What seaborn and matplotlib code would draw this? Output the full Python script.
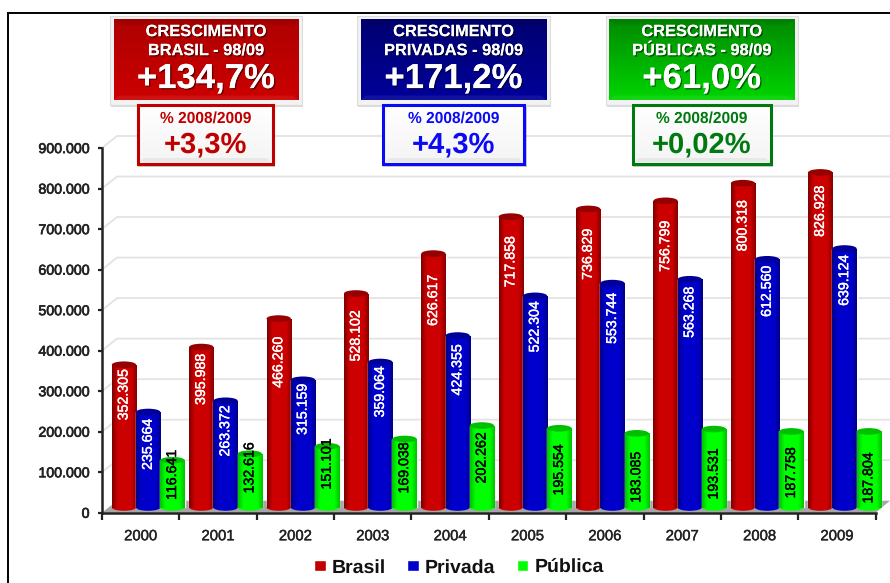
import numpy as np
import pandas as pd
import matplotlib
matplotlib.use('Agg')
import matplotlib.pyplot as plt
import matplotlib.patheffects as pe
from matplotlib.colors import LinearSegmentedColormap
from matplotlib.patches import Ellipse, Polygon, Rectangle
from matplotlib.ticker import FuncFormatter
import seaborn as sns

years = ['2000', '2001', '2002', '2003', '2004', '2005', '2006', '2007', '2008', '2009']
brasil = [352305, 395988, 466260, 528102, 626617, 717858, 736829, 756799, 800318, 826928]
privada = [235664, 263372, 315159, 359064, 424355, 522304, 553744, 563268, 612560, 639124]
publica = [116641, 132616, 151101, 169038, 202262, 195554, 183085, 193531, 187758, 187804]
series_names = ['Brasil', 'Privada', 'Pública']
y_ticks = [0, 100000, 200000, 300000, 400000, 500000, 600000, 700000, 800000, 900000]

# how far (px) each value label sits below the top of its bar
drop_brasil = [30, 32.4, 43.8, 42.4, 46.8, 45.2, 45.4, 45.5, 42.6, 38.9]
drop_privada = [32.4, 30.2, 29.6, 29.9, 34.4, 31, 35.3, 33.1, 32.1, 31.8]
drop_publica = [14.7, 14.2, 17.7, 29, 32.4, 41.7, 44.1, 44.9, 41.5, 46.6]

W, H = 890, 583
AX_L, AX_R, AX_B, AX_T = 102, 875.7, 512.7, 148
DEPTH_X, DEPTH_Y = 15, 12
BAR_DX, BAR_DY = 7.5, 5.2
PX_PER_UNIT = (AX_B - AX_T) / 900000


def rect_of(x0, y0, x1, y1):
    return [x0 / W, 1 - y1 / H, (x1 - x0) / W, (y1 - y0) / H]


def fmt_thousands(v, pos=None):
    return f'{int(v):,}'.replace(',', '.')


def shade(ax, x0, y0, x1, y1, top, bottom, zorder):
    cmap = LinearSegmentedColormap.from_list('b', [top, bottom])
    ax.imshow(np.linspace(0, 1, 64).reshape(-1, 1), cmap=cmap, extent=[x0, x1, y1, y0],
              aspect='auto', zorder=zorder)


def bevel(ax, x0, y0, x1, y1, b, color_top, color_bottom, a, zorder):
    ax.add_patch(Polygon([(x0, y0), (x1, y0), (x1 - b, y0 + b), (x0 + b, y0 + b)],
                         fc=color_top, ec='none', alpha=a, zorder=zorder))
    ax.add_patch(Polygon([(x0, y1), (x1, y1), (x1 - b, y1 - b), (x0 + b, y1 - b)],
                         fc=color_bottom, ec='none', alpha=a, zorder=zorder))


def big_box(ax, x0, x1, top, bottom, title, value):
    ax.add_patch(Rectangle((x0 + 1, 18), x1 - x0, 89, fc='#999999', ec='none', alpha=0.35, zorder=3))
    ax.add_patch(Rectangle((x0, 16), x1 - x0, 89, fc='#F2F2F2', ec='#DDDDDD', lw=0.8, zorder=3.1))
    shade(ax, x0 + 3.5, 19.5, x1 - 3.5, 100.5, top, bottom, 3.2)
    bevel(ax, x0 + 3.5, 19.5, x1 - 3.5, 100.5, 5, 'black', 'white', 0.07, 3.3)
    shadow = [pe.withSimplePatchShadow(offset=(1, -1), shadow_rgbFace='black', alpha=0.5), pe.Normal()]
    cx = (x0 + x1) / 2
    ax.text(cx, 32, title[0], color='white', fontsize=11.8, fontweight='bold', ha='center', va='center',
            path_effects=shadow, zorder=4)
    ax.text(cx, 51, title[1], color='white', fontsize=11.8, fontweight='bold', ha='center', va='center',
            path_effects=shadow, zorder=4)
    ax.text(cx, 79, value, color='white', fontsize=25, fontweight='bold', ha='center', va='center',
            path_effects=shadow, zorder=4)


def small_box(ax, x0, x1, color, value):
    ax.add_patch(Rectangle((x0 + 1, 107), x1 - x0, 60, fc='#777777', ec='none', alpha=0.4, zorder=3))
    shade(ax, x0, 105, x1, 164.5, '#FFFFFF', '#F4F4F4', 3.1)
    bevel(ax, x0 + 3, 108, x1 - 3, 162, 4, '#FFFFFF', '#BBBBBB', 0.2, 3.2)
    ax.add_patch(Rectangle((x0 + 1.3, 105), x1 - x0 - 2.6, 58.5, fc='none', ec=color, lw=2.2, zorder=3.3))
    cx = (x0 + x1) / 2
    ax.text(cx, 119, '% 2008/2009', color=color, fontsize=11.2, fontweight='bold', ha='center', va='center', zorder=4)
    ax.text(cx, 145, value, color=color, fontsize=21, fontweight='bold', ha='center', va='center', zorder=4)


sns.set_theme(style='white')
plt.rcParams['font.family'] = ['Liberation Sans', 'DejaVu Sans']
plt.rcParams['text.hinting'] = 'none'

df = pd.DataFrame({
    'ano': years * 3,
    'tipo': [n for n in series_names for _ in years],
    'valor': brasil + privada + publica,
})

fig = plt.figure(figsize=(W / 100, H / 100), dpi=100, facecolor='white')

# back layer: frame, walls, floor and gridlines
back = fig.add_axes([0, 0, 1, 1], zorder=0)
back.set_xlim(0, W)
back.set_ylim(H, 0)
back.axis('off')
back.plot([7.5, 7.5, W], [H, 12.5, 12.5], color='black', lw=1.4, solid_joinstyle='miter')
back.add_patch(Polygon([(AX_L, AX_B), (AX_R, AX_B), (W, AX_B - DEPTH_Y), (AX_L + DEPTH_X, AX_B - DEPTH_Y)],
                       fc='#A6A6A6', ec='none'))
for t in y_ticks[1:]:
    y = AX_B - t * PX_PER_UNIT
    back.plot([AX_L, AX_L + DEPTH_X, W], [y, y - DEPTH_Y, y - DEPTH_Y], color='#E3E3E3', lw=1.3)

# main axis with the ticks
ax = fig.add_axes(rect_of(AX_L, AX_T, AX_R, AX_B), zorder=1)
ax.patch.set_alpha(0)
ax.set_xlim(-0.5, 9.5)
ax.set_ylim(0, 900000)
ax.set_yticks(y_ticks)
ax.yaxis.set_major_formatter(FuncFormatter(fmt_thousands))
ax.set_xticks(np.arange(-0.5, 10, 1))
ax.set_xticklabels([])
ax.set_xticks(range(len(years)), labels=years, minor=True)
ax.tick_params(axis='x', which='major', length=5, width=1.6, color='#222222', bottom=True)
ax.tick_params(axis='x', which='minor', length=0, pad=12, labelsize=10.7, labelcolor='#222222', bottom=False)
ax.tick_params(axis='y', length=3, width=1.6, color='#222222', left=True, pad=6, labelsize=10.2, labelcolor='#222222')
for label in ax.get_yticklabels():
    label.set_path_effects([pe.withStroke(linewidth=0.5, foreground='#222222')])
for label in ax.get_xticklabels(minor=True):
    label.set_path_effects([pe.withStroke(linewidth=0.3, foreground='#222222')])
sns.despine(ax=ax)
ax.spines['left'].set_color('#222222')
ax.spines['bottom'].set_color('#222222')
ax.spines['left'].set_linewidth(1.8)
ax.spines['bottom'].set_linewidth(1.8)

# bars sit on a layer shifted into the depth of the floor
bar_ax = fig.add_axes(rect_of(AX_L + BAR_DX, AX_T - BAR_DY, AX_R + BAR_DX, AX_B - BAR_DY), zorder=2)
bar_ax.patch.set_alpha(0)
palette = {'Brasil': '#C00000', 'Privada': '#0000CC', 'Pública': '#00FF00'}
sns.barplot(data=df, x='ano', y='valor', hue='tipo', palette=palette, width=0.94, gap=0,
            saturation=1, ax=bar_ax)
bar_ax.set_xlim(-0.5, 9.5)
bar_ax.set_ylim(0, 900000)
bar_ax.set_autoscale_on(False)
bar_ax.axis('off')

body_cmaps = [
    ['#800000', '#CC0000', '#CC0000', '#8A0000'],
    ['#00008A', '#0000CC', '#0000CC', '#00008A'],
    ['#00C400', '#00FF00', '#00FF00', '#00C400'],
]
top_colors = ['#960000', '#000099', '#00BE00']
label_colors = ['white', 'white', 'black']
drops = [drop_brasil, drop_privada, drop_publica]
ELLIPSE_H = 6.6 / PX_PER_UNIT

for i, container in enumerate(bar_ax.containers):
    cmap = LinearSegmentedColormap.from_list(f's{i}', list(zip([0, 0.22, 0.78, 1], body_cmaps[i])))
    z = 3 + i
    for j, bar in enumerate(container):
        x0, w, h = bar.get_x(), bar.get_width(), bar.get_height()
        cx = x0 + w / 2
        bar.set_zorder(z)
        bar_ax.add_patch(Ellipse((cx, 0), w, ELLIPSE_H, fc=cmap(0.5), ec='none', zorder=z, clip_on=False))
        bar_ax.imshow(np.linspace(0, 1, 48).reshape(1, -1), cmap=cmap, extent=[x0, x0 + w, 0, h],
                      aspect='auto', zorder=z + 0.1)
        bar_ax.add_patch(Ellipse((cx, h), w, ELLIPSE_H, fc=top_colors[i], ec='none', zorder=z + 0.2))
        txt = bar_ax.text(cx, h - drops[i][j] / PX_PER_UNIT, fmt_thousands(h), rotation=90, ha='center',
                          va='center', fontsize=10.2, color=label_colors[i], zorder=10)
        txt.set_path_effects([pe.withStroke(linewidth=0.3, foreground=label_colors[i])])
bar_ax.set_xlim(-0.5, 9.5)
bar_ax.set_ylim(0, 900000)

sns.move_legend(bar_ax, 'center', bbox_to_anchor=(459 / W, 1 - 567.5 / H), bbox_transform=fig.transFigure,
                ncol=3, title=None, frameon=False, handlelength=0.6, handleheight=0.5,
                handletextpad=0.3, columnspacing=1.1, prop={'weight': 'bold', 'size': 14})
for text in bar_ax.get_legend().get_texts():
    text.set_color('#111111')

# callout boxes on top
top = fig.add_axes([0, 0, 1, 1], zorder=3)
top.patch.set_alpha(0)
top.axis('off')
big_box(top, 110, 302, '#AE0000', '#CC0000', ('CRESCIMENTO', 'BRASIL - 98/09'), '+134,7%')
big_box(top, 357, 550, '#000070', '#00009A', ('CRESCIMENTO', 'PRIVADAS - 98/09'), '+171,2%')
big_box(top, 605.5, 798, '#008A00', '#00D400', ('CRESCIMENTO', 'PÚBLICAS - 98/09'), '+61,0%')
small_box(top, 137, 274, '#C00000', '+3,3%')
small_box(top, 382, 525.7, '#0A0AF5', '+4,3%')
small_box(top, 631.7, 772.3, '#007A10', '+0,02%')
top.set_xlim(0, W)
top.set_ylim(H, 0)

fig.savefig('out.png', dpi=100)
